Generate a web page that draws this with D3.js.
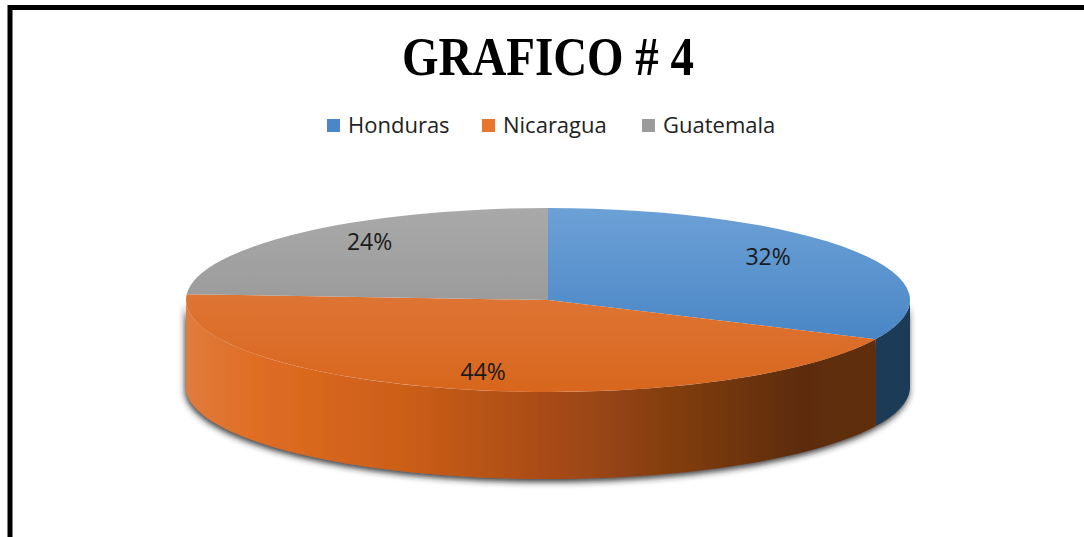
<!DOCTYPE html>
<html>
<head>
<meta charset="utf-8">
<script src="https://cdn.jsdelivr.net/npm/d3@7"></script>
<style>
  body { margin: 0; background: #fff; }
  svg { display: block; }
</style>
</head>
<body>
<svg width="1084" height="537"></svg>
<script>
var width = 1084,
    height = 537;

var countries = ["Honduras", "Nicaragua", "Guatemala"];
var shares = [32, 44, 24];
var topColors = [["#6ca1d6", "#3c7bbf"], ["#e3824b", "#d8661c"], ["#a9a9a9", "#8e8e8e"]];
var wallColors = ["#1e3a56", "url(#wallOrange)", "#7f7f7f"];
var legendColors = ["#4a86c8", "#e8762f", "#9b9b9b"];

var svg = d3.select("svg");

var defs = svg.append("defs");

// frame
svg.append("path")
    .attr("d", "M10,537V7.5H1084")
    .attr("fill", "none")
    .attr("stroke", "#000")
    .attr("stroke-width", 5);

svg.append("text")
    .attr("x", 548)
    .attr("y", 75)
    .attr("text-anchor", "middle")
    .attr("textLength", 292)
    .attr("lengthAdjust", "spacingAndGlyphs")
    .style("font-family", "'Liberation Serif', 'Times New Roman', serif")
    .style("font-weight", "bold")
    .style("font-size", "54px")
    .text("GRAFICO # 4");

// legend
var legendX = [327, 482, 642];
var legend = svg.selectAll(".legend")
    .data(countries)
    .enter().append("g")
      .attr("class", "legend")
      .attr("transform", function(d, i){
        return "translate(" + legendX[i] + ",119)";
      });

legend.append("rect")
    .attr("width", 13)
    .attr("height", 13)
    .attr("fill", function(d, i){ return legendColors[i]; });

legend.append("text")
    .attr("x", 21)
    .attr("y", 14)
    .style("font-family", "'Open Sans', sans-serif")
    .style("font-size", "22px")
    .style("fill", "#222")
    .text(function(d){ return d; });

// 3d pie
var cx = 548, cy = 300, rx = 362, ry = 92, depth = 87;

var pie = d3.pie().sort(null).value(function(d){ return d; });
var arcs = pie(shares);

function pt(a, dy){
  return [cx + rx * Math.sin(a), cy - ry * Math.cos(a) + (dy || 0)];
}

var wallGrad = defs.append("linearGradient")
    .attr("id", "wallOrange")
    .attr("gradientUnits", "userSpaceOnUse")
    .attr("x1", cx - rx).attr("x2", cx + rx)
    .attr("y1", 0).attr("y2", 0);
[[0, "#e07b3e"], [0.1, "#df6d22"], [0.3, "#cc5e18"], [0.5, "#a84b14"],
 [0.71, "#7a3a10"], [0.85, "#5d2c0e"], [1, "#62300f"]].forEach(function(s){
  wallGrad.append("stop").attr("offset", s[0]).attr("stop-color", s[1]);
});

topColors.forEach(function(c, i){
  var g = defs.append("linearGradient")
      .attr("id", "top" + i)
      .attr("gradientUnits", "userSpaceOnUse")
      .attr("x1", 0).attr("x2", 0)
      .attr("y1", cy - ry).attr("y2", cy + ry);
  g.append("stop").attr("offset", 0).attr("stop-color", c[0]);
  g.append("stop").attr("offset", 1).attr("stop-color", c[1]);
});

var shadow = defs.append("filter")
    .attr("id", "shadow")
    .attr("x", "-10%").attr("y", "-10%")
    .attr("width", "120%").attr("height", "130%");
shadow.append("feDropShadow")
    .attr("dx", -1).attr("dy", 3)
    .attr("stdDeviation", 3)
    .attr("flood-color", "#222")
    .attr("flood-opacity", 0.9);

var line = d3.line();

// outer walls (front half only)
var walls = svg.append("g").attr("filter", "url(#shadow)");
arcs.forEach(function(d, i){
  var a = Math.max(d.startAngle, Math.PI / 2),
      b = Math.min(d.endAngle, 3 * Math.PI / 2);
  if (b <= a) return;
  var n = 80;
  var upper = d3.range(n + 1).map(function(k){ return pt(a + (b - a) * k / n); });
  var lower = upper.map(function(p){ return [p[0], p[1] + depth]; }).reverse();
  walls.append("path")
      .attr("d", line(upper.concat(lower)) + "Z")
      .attr("fill", wallColors[i]);
});

// top faces
arcs.forEach(function(d, i){
  var p0 = pt(d.startAngle), p1 = pt(d.endAngle);
  var large = d.endAngle - d.startAngle > Math.PI ? 1 : 0;
  svg.append("path")
      .attr("d", "M" + cx + "," + cy + "L" + p0 + "A" + rx + "," + ry + " 0 " + large + " 1 " + p1 + "Z")
      .attr("fill", "url(#top" + i + ")");
});

// labels
arcs.forEach(function(d, i){
  var m = (d.startAngle + d.endAngle) / 2;
  svg.append("text")
      .attr("x", cx + rx * 0.72 * Math.sin(m))
      .attr("y", cy - ry * 0.83 * Math.cos(m) + 6)
      .attr("text-anchor", "middle")
      .style("font-family", "'Open Sans', sans-serif")
      .style("font-size", "23px")
      .style("fill", "#1a1a1a")
      .text(shares[i] + "%");
});
</script>
</body>
</html>
